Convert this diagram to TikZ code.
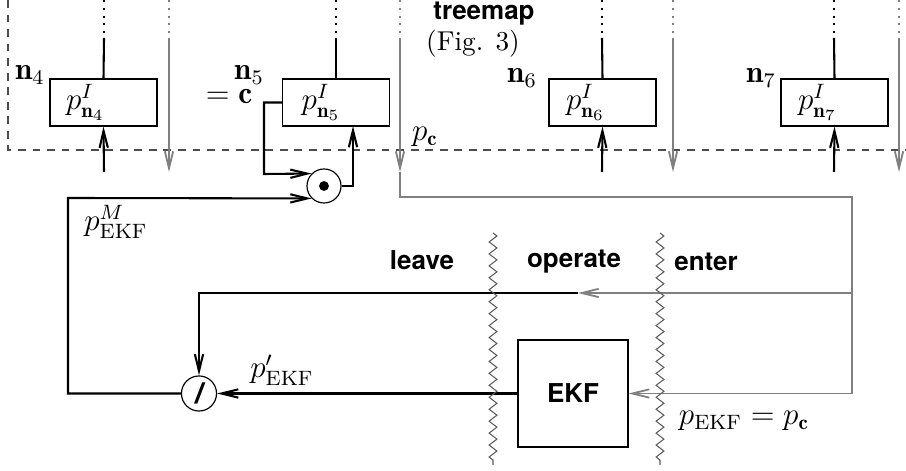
\documentclass[tikz,border=0pt]{standalone}
\usepackage{fontspec}
\newfontfamily\hel{TeX Gyre Heros}
\newfontfamily\lib{Liberation Sans}
\usetikzlibrary{arrows.meta,decorations.pathmorphing}
\begin{document}
\begin{tikzpicture}[x=0.385pt,y=-0.385pt,
 blk/.style={black,line width=0.8pt},
 gry/.style={black!50,line width=0.7pt},
 arr/.style={-{Straight Barb[length=6.5pt,width=3.2pt]}},
 pbox/.style={draw,line width=0.45pt,text width=41.2pt,align=left,minimum height=18.1pt,inner xsep=0pt,inner ysep=0pt,font=\large},
 lbl/.style={inner sep=0pt,font=\large},
 sf/.style={font=\hel\bfseries,inner sep=0pt},
 dots/.style={dash pattern=on 0.8pt off 2.2pt},
 wig/.style={black!65,line width=0.4pt,decorate,decoration={zigzag,segment length=4.6pt,amplitude=1.5pt}},
 frame/.style={black!70,line width=0.5pt,dash pattern=on 3pt off 2.6pt}]
\useasboundingbox (0,0) rectangle (906,471);

% dashed frame
\coordinate (f0) at (8,0);
\coordinate (f1) at (8,150);
\coordinate (f2) at (906,150);
\draw[frame] (f0) -- (f1) -- (f2);

% boxes
\node[pbox] (b4) at (103.5,102.5) {\hspace*{6.2pt}$p^I_{\mathbf{n}_4}$};
\node[pbox] (b5) at (336,102.5) {\hspace*{7.4pt}$p^I_{\mathbf{n}_5}$};
\node[pbox] (b6) at (602.5,102.5) {\hspace*{6.6pt}$p^I_{\mathbf{n}_6}$};
\node[pbox] (b7) at (834.5,102.5) {\hspace*{6.6pt}$p^I_{\mathbf{n}_7}$};

% vertical lines of each column
\foreach \n/\xb/\xg in {4/104/169,5/336/400,6/602/673,7/834/899}{
  \coordinate (d\n) at (\xb,0);
  \coordinate (t\n) at (\xb,38);
  \draw[blk,dots] (d\n) -- (t\n);
  \draw[blk] (t\n) -- (b\n.north);
  \coordinate (gd\n) at (\xg,0);
  \coordinate (gt\n) at (\xg,38);
  \coordinate (gb\n) at (\xg,172);
  \draw[gry,dots] (gd\n) -- (gt\n);
  \draw[gry,arr] (gt\n) -- (gb\n);
}
\foreach \n/\xb in {4/104,6/602,7/834}{
  \coordinate (u\n) at (\xb,172);
  \draw[blk,arr] (u\n) -- (b\n.south);
}

% operator nodes
\node[circle,draw,line width=0.45pt,minimum size=13.1pt,inner sep=0pt] (odot) at (324,186) {};
\fill (odot.center) circle (1.9pt);
\node[circle,draw,line width=0.45pt,minimum size=13.5pt,inner sep=0pt,font=\lib\bfseries\itshape\fontsize{11}{12}\selectfont] (div) at (199,393.5) {/};
\node[draw,line width=0.45pt,minimum width=42.35pt,minimum height=41.2pt,font=\hel\bfseries] (ekf) at (573,393.5) {EKF};

% n5 connections
\coordinate (k5) at (264,174);
\draw[blk,arr] (b5.west) -| (k5) -- (odot.135);
\coordinate (e5) at (353,126);
\draw[blk,arr] (odot.east) -| (e5);

% gray route
\coordinate (g5c) at (400,197);
\coordinate (rc) at (852,197);
\coordinate (rm) at (852,293);
\coordinate (rb) at (852,393.5);
\coordinate (optip) at (578,293);
\draw[gry,arr] (gb5) -- (g5c) -- (rc) -- (rb) -- (ekf.east);
\draw[gry,arr] (rm) -- (optip);
\draw[blk,arr] (optip) -| (div.north);

% EKF output and loop
\draw[blk,arr] (ekf.west) -- (div.east);
\coordinate (lc) at (68,393.5);
\coordinate (lt) at (68,198);
\draw[blk,arr] (div.west) -- (lc) -- (lt) -- (odot.225);

% zigzag borders
\coordinate (w1a) at (493,233);
\coordinate (w1b) at (493,465);
\coordinate (w2a) at (660,233);
\coordinate (w2b) at (660,465);
\draw[wig] (w1a) -- (w1b);
\draw[wig] (w2a) -- (w2b);

% labels
\node[sf] (tm) at (484,14) {treemap};
\node[lbl,font=\fontsize{10.5}{12}\selectfont] (fig) at (473,44) {(Fig. 3)};
\node[lbl] (n4) at (30,75) {$\mathbf{n}_4$};
\node[lbl] (n5) at (249,75) {$\mathbf{n}_5$};
\node[lbl] (c5) at (229,97) {$=\mathbf{c}$};
\node[lbl] (n6) at (522,78) {$\mathbf{n}_6$};
\node[lbl] (n7) at (761,78) {$\mathbf{n}_7$};
\node[lbl] (pc) at (425,137) {$p_{\mathbf{c}}$};
\node[lbl] (pm) at (116,222) {$p^M_{\mathrm{EKF}}$};
\node[lbl] (pp) at (282,370) {$p'_{\mathrm{EKF}}$};
\node[lbl] (pe) at (744,421) {$p_{\mathrm{EKF}}=p_{\mathbf{c}}$};
\node[sf] (lv) at (422,260) {leave};
\node[sf] (op) at (574,262) {operate};
\node[sf] (en) at (706,262) {enter};
\end{tikzpicture}
\end{document}
